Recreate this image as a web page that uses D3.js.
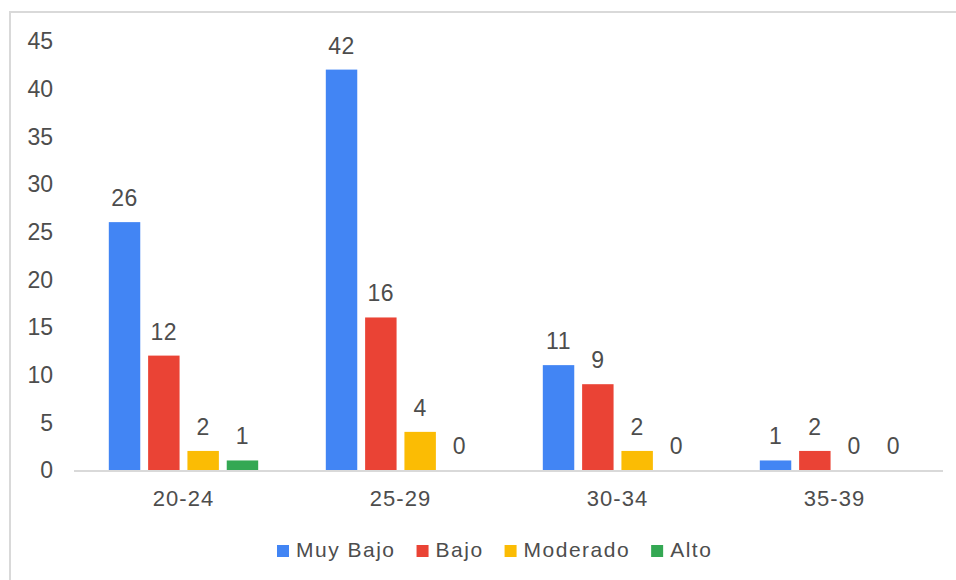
<!DOCTYPE html>
<html>
<head>
<meta charset="utf-8">
<script src="https://cdn.jsdelivr.net/npm/d3@7"></script>
<style>
  body { margin: 0; background: #fff; }
  text { font-family: "Liberation Sans", Arial, sans-serif; fill: #4d4d4d; }
</style>
</head>
<body>
<div id="chart"></div>
<script>
// data
var groups = ["20-24", "25-29", "30-34", "35-39"];
var seriesNames = ["Muy Bajo", "Bajo", "Moderado", "Alto"];
var muyBajo = [26, 42, 11, 1];
var bajo = [12, 16, 9, 2];
var moderado = [2, 4, 2, 0];
var alto = [1, 0, 0, 0];
var yTicks = [0, 5, 10, 15, 20, 25, 30, 35, 40, 45];
var colors = ["#4285f4", "#ea4335", "#fbbc04", "#34a853"];

var values = [muyBajo, bajo, moderado, alto];

var width = 956, height = 580;

var svg = d3.select("#chart").append("svg")
    .attr("width", width)
    .attr("height", height);

// frame (only left and top edges show)
svg.append("line")
    .attr("x1", 10).attr("x2", 10).attr("y1", 11).attr("y2", height)
    .attr("stroke", "#d9d9d9").attr("stroke-width", 2);
svg.append("line")
    .attr("x1", 10).attr("x2", width).attr("y1", 12).attr("y2", 12)
    .attr("stroke", "#d9d9d9").attr("stroke-width", 2);

// scales
var x0 = d3.scaleBand().domain(groups).range([75, 943]).padding(0);
var x1 = d3.scaleBand().domain(seriesNames)
    .range([0, x0.bandwidth()])
    .paddingInner(0.2)
    .paddingOuter(0.86);
var y = d3.scaleLinear().domain([0, 45]).range([470, 41]);

// y tick labels
svg.append("g").selectAll("text")
    .data(yTicks)
  .enter().append("text")
    .attr("x", 53)
    .attr("y", function(d) { return y(d); })
    .attr("dy", "0.36em")
    .style("text-anchor", "end")
    .style("font-size", "23px")
    .text(function(d) { return d; });

// bars
var rows = [];
groups.forEach(function(g, gi) {
  seriesNames.forEach(function(s, si) {
    rows.push({group: g, series: s, si: si, value: values[si][gi]});
  });
});

svg.append("g").selectAll("rect")
    .data(rows.filter(function(d) { return d.value > 0; }))
  .enter().append("rect")
    .attr("x", function(d) { return x0(d.group) + x1(d.series); })
    .attr("y", function(d) { return y(d.value); })
    .attr("width", x1.bandwidth())
    .attr("height", function(d) { return y(0) - y(d.value); })
    .attr("fill", function(d) { return colors[d.si]; });

// value labels
svg.append("g").selectAll("text")
    .data(rows)
  .enter().append("text")
    .attr("x", function(d) { return x0(d.group) + x1(d.series) + x1.bandwidth() / 2; })
    .attr("y", function(d) { return y(d.value) - 16; })
    .style("text-anchor", "middle")
    .style("font-size", "23px")
    .style("letter-spacing", "0.5px")
    .text(function(d) { return d.value; });

// baseline
svg.append("line")
    .attr("x1", 74).attr("x2", 943)
    .attr("y1", y(0) + 1).attr("y2", y(0) + 1)
    .attr("stroke", "#d9d9d9").attr("stroke-width", 2);

// x labels
svg.append("g").selectAll("text")
    .data(groups)
  .enter().append("text")
    .attr("x", function(d) { return x0(d) + x0.bandwidth() / 2; })
    .attr("y", 506)
    .style("text-anchor", "middle")
    .style("font-size", "22px")
    .style("letter-spacing", "1px")
    .text(function(d) { return d; });

// legend
var legend = svg.append("g");
var lx = 277;
seriesNames.forEach(function(s, i) {
  legend.append("rect")
      .attr("x", lx).attr("y", 545)
      .attr("width", 12).attr("height", 12)
      .attr("fill", colors[i]);
  var t = legend.append("text")
      .attr("x", lx + 19).attr("y", 557)
      .style("font-size", "21px")
      .style("letter-spacing", "1.5px")
      .text(s);
  lx += 19 + t.node().getComputedTextLength() + 21;
});
</script>
</body>
</html>
